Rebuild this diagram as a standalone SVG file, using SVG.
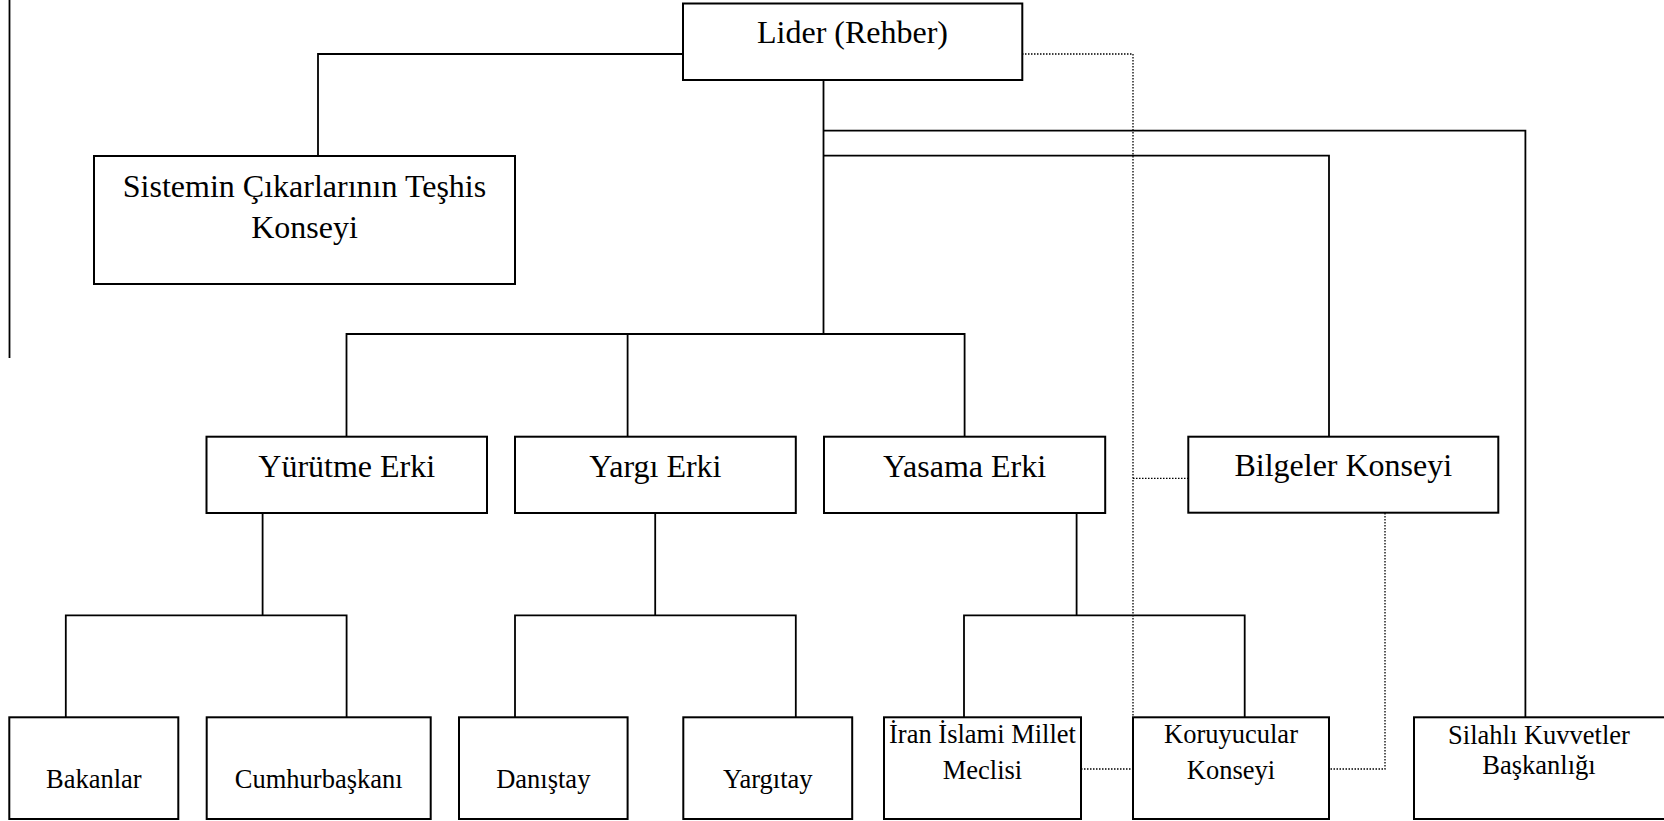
<svg xmlns="http://www.w3.org/2000/svg" width="1664" height="821" viewBox="0 0 1664 821">
<style>
  rect.box { fill: #fff; stroke: #000; stroke-width: 2; }
  text { font-family: "Liberation Serif", "Times New Roman", serif; fill: #000; text-anchor: middle; }
  .big { font-size: 32px; }
  .small { font-size: 26.5px; }
  .solid { fill: none; stroke: #000; stroke-width: 1.8; }
  .dot { fill: none; stroke: #000; stroke-width: 1.3; stroke-dasharray: 1.5 1.5; }
</style>
<rect x="0" y="0" width="1664" height="821" fill="#fff"/>
<line x1="9.5" y1="0" x2="9.5" y2="358" class="solid"/>
<g id="connectors">
  <polyline class="solid" points="683,54 318,54 318,156"/>
  <polyline class="solid" points="823.5,80 823.5,334"/>
  <polyline class="solid" points="823.5,130.7 1525.4,130.7 1525.4,717"/>
  <polyline class="solid" points="823.5,155.7 1329,155.7 1329,436.7"/>
  <polyline class="solid" points="346.5,436.7 346.5,334 964.6,334 964.6,436.7"/>
  <polyline class="solid" points="627.6,334 627.6,436.7"/>
  <polyline class="solid" points="262.6,513 262.6,615.3"/>
  <polyline class="solid" points="65.8,717.3 65.8,615.3 346.6,615.3 346.6,717.3"/>
  <polyline class="solid" points="655.2,513 655.2,615.3"/>
  <polyline class="solid" points="515,717.3 515,615.3 795.8,615.3 795.8,717.3"/>
  <polyline class="solid" points="1076.6,513 1076.6,615.3"/>
  <polyline class="solid" points="964,717.3 964,615.3 1244.7,615.3 1244.7,717.3"/>
  <polyline class="dot" points="1022,54 1133,54 1133,717"/>
  <polyline class="dot" points="1133,478.3 1188,478.3"/>
  <polyline class="dot" points="1385,513 1385,769 1329,769"/>
  <polyline class="dot" points="1081,769 1133,769"/>
</g>
<g id="lider">
  <rect class="box" x="683" y="3.5" width="339.3" height="76.5"/>
  <text class="big" x="852.5" y="43.3">Lider (Rehber)</text>
</g>
<g id="teshis">
  <rect class="box" x="94" y="156" width="421" height="128"/>
  <text class="big" x="304.5" y="197.3">Sistemin Çıkarlarının Teşhis</text>
  <text class="big" x="304.5" y="238.3">Konseyi</text>
</g>
<g id="yurutme">
  <rect class="box" x="206.5" y="436.7" width="280.5" height="76.3"/>
  <text class="big" x="346.7" y="477">Yürütme Erki</text>
</g>
<g id="yargi">
  <rect class="box" x="515" y="436.7" width="280.8" height="76.3"/>
  <text class="big" x="655.4" y="477">Yargı Erki</text>
</g>
<g id="yasama">
  <rect class="box" x="824" y="436.7" width="281.2" height="76.3"/>
  <text class="big" x="964.6" y="477">Yasama Erki</text>
</g>
<g id="bilgeler">
  <rect class="box" x="1188.3" y="436.7" width="310" height="76"/>
  <text class="big" x="1343.3" y="476">Bilgeler Konseyi</text>
</g>
<g id="bakanlar">
  <rect class="box" x="9.3" y="717.3" width="169" height="101.7"/>
  <text class="small" x="93.8" y="788.3">Bakanlar</text>
</g>
<g id="cumhurbaskani">
  <rect class="box" x="206.7" y="717.3" width="224" height="101.7"/>
  <text class="small" x="318.7" y="788.3">Cumhurbaşkanı</text>
</g>
<g id="danistay">
  <rect class="box" x="459" y="717.3" width="168.6" height="101.7"/>
  <text class="small" x="543.3" y="788.3">Danıştay</text>
</g>
<g id="yargitay">
  <rect class="box" x="683.3" y="717.3" width="168.9" height="101.7"/>
  <text class="small" x="767.8" y="788.3">Yargıtay</text>
</g>
<g id="meclis">
  <rect class="box" x="884" y="717.3" width="197" height="101.7"/>
  <text class="small" x="982.5" y="743.3">İran İslami Millet</text>
  <text class="small" x="982.5" y="778.7">Meclisi</text>
</g>
<g id="koruyucular">
  <rect class="box" x="1133" y="717.3" width="196" height="101.7"/>
  <text class="small" x="1231" y="743.3">Koruyucular</text>
  <text class="small" x="1231" y="778.7">Konseyi</text>
</g>
<g id="silahli">
  <rect class="box" x="1414" y="717.3" width="262" height="101.7"/>
  <text class="small" x="1539" y="744">Silahlı Kuvvetler</text>
  <text class="small" x="1539" y="774">Başkanlığı</text>
</g>
</svg>
